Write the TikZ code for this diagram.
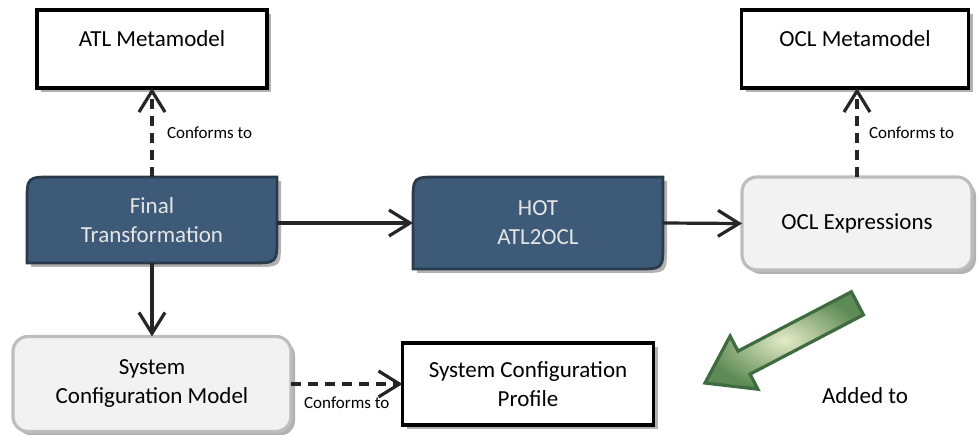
\documentclass[tikz,border=0pt]{standalone}
\usepackage{fontspec}
\setmainfont{Carlito}
\usetikzlibrary{arrows.meta,shadows,backgrounds}

\definecolor{hotblue}{HTML}{3D5B78}
\definecolor{hotedge}{HTML}{2B3B4C}
\definecolor{paleface}{HTML}{F2F2F2}
\definecolor{paleedge}{HTML}{BDBDBD}
\definecolor{leafdark}{HTML}{3E6B40}
\definecolor{leafmid}{HTML}{5E8A55}
\definecolor{leaflight}{HTML}{E3EBC6}

\begin{document}
\begin{tikzpicture}[x=1pt,y=-1pt,
  every node/.style={outer sep=0pt,inner sep=0pt,align=center,font=\fontsize{23}{29}\selectfont},
  boxshadow/.style={drop shadow={shadow xshift=4pt,shadow yshift=-4pt,opacity=.3,fill=black}},
  mmbox/.style={draw=black,fill=white,line width=3.2pt,minimum width=230pt,minimum height=78pt,
    text height=16pt,text depth=20pt,boxshadow},
  darkbox/.style={minimum width=250pt,text=white!90!black},
  palebox/.style={draw=paleedge,fill=paleface,line width=3.2pt,rounded corners=15pt,boxshadow},
  conn/.style={line width=3.2pt,draw=black!85,-{Straight Barb[length=21pt,width=26pt]}},
  conforms/.style={conn,dash pattern=on 10pt off 7pt},
  note/.style={font=\fontsize{17}{20}\selectfont}]
  \useasboundingbox (0,0) rectangle (979,435);

  % metamodels
  \node[mmbox] (atlmm) at (152,49) {ATL Metamodel};
  \node[mmbox,minimum width=227pt] (oclmm) at (855,49) {OCL Metamodel};

  % transformations
  \node[darkbox,minimum height=86pt] (fin) at (152,220) {Final\\Transformation};
  \node[darkbox,minimum height=92pt] (hot) at (538,223) {HOT\\ATL2OCL};
  \begin{scope}[on background layer]
    \foreach \n in {fin,hot}
      \draw[fill=hotblue,draw=hotedge,line width=2.8pt,boxshadow]
        (\n.south west) -- ([yshift=-26pt]\n.north west)
        .. controls (\n.north west) .. ([xshift=26pt]\n.north west)
        -- (\n.north east) -- ([yshift=26pt]\n.south east)
        .. controls (\n.south east) .. ([xshift=-26pt]\n.south east) -- cycle;
  \end{scope}

  % models
  \node[palebox,minimum width=230pt,minimum height=93pt] (oclx) at (857,223.5) {OCL Expressions};
  \node[palebox,minimum width=278pt,minimum height=95pt] (scm) at (152,384) {System\\Configuration Model};
  \node[draw=black,fill=white,line width=3.2pt,boxshadow,minimum width=251pt,minimum height=82pt]
    (scp) at (528,384) {System Configuration\\Profile};

  % connectors
  \draw[conforms] (fin.north) -- (atlmm.south)
    node[note,pos=.5,anchor=west,xshift=15pt] {Conforms to};
  \draw[conforms] (oclx.north) -- (oclx.north |- oclmm.south)
    node[note,pos=.5,anchor=west,xshift=12pt] {Conforms to};
  \draw[conn] (fin.east |- hot.west) -- (hot.west);
  \draw[conn] (hot.east) -- (oclx.west);
  \draw[conn] (fin.south) -- (scm.north);
  \draw[conforms] (scm.east) -- (scm.east -| scp.west)
    node[note,pos=.5,anchor=north,yshift=-13pt] {Conforms to};

  % added to
  \begin{scope}[shift={(705,383)},rotate=27.6]
    \shadedraw[inner color=leaflight,outer color=leafmid,draw=leafdark,line width=3.2pt]
      (0,0) -- (44,-30) -- (44,-13) -- (172,-13) -- (172,13) -- (44,13) -- (44,30) -- cycle;
  \end{scope}
  \node (added) at (865,396) {Added to};
\end{tikzpicture}
\end{document}
